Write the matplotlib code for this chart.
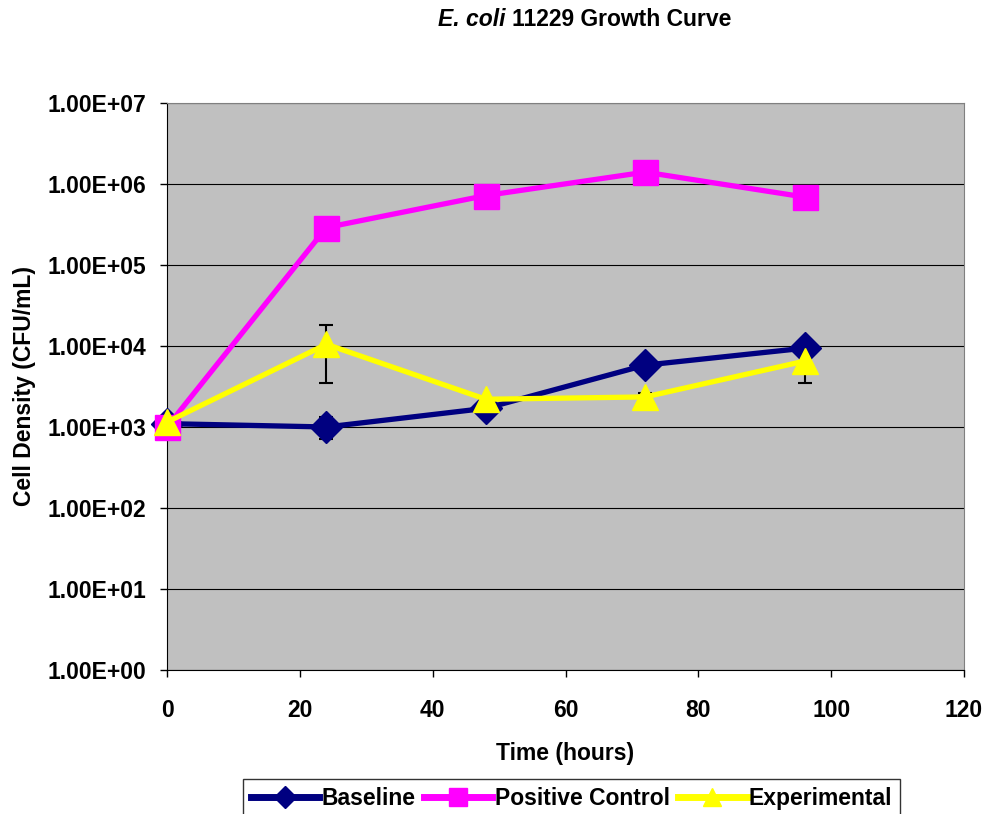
import matplotlib
matplotlib.use("Agg")
import matplotlib.pyplot as plt
from matplotlib.ticker import FuncFormatter, FixedLocator

plt.rcParams['font.family'] = ['Liberation Sans', 'DejaVu Sans']
plt.rcParams['font.weight'] = 'bold'

# data
hours = [0, 24, 48, 72, 96]
baseline = [1.1e3, 1.0e3, 1.7e3, 5.8e3, 9.4e3]
baseline_err_lo = [0, 280, 0, 0, 0]
baseline_err_hi = [0, 330, 0, 0, 0]
positive = [1.0e3, 2.9e5, 7.2e5, 1.4e6, 6.9e5]
experimental = [1.15e3, 1.05e4, 2.2e3, 2.35e3, 6.5e3]
exp_err_lo = [0, 7.0e3, 0, 0, 3.0e3]
exp_err_hi = [0, 7.5e3, 0, 300, 3.0e3]

y_ticks = [1e0, 1e1, 1e2, 1e3, 1e4, 1e5, 1e6, 1e7]

fs = 16.5

fig = plt.figure(figsize=(9.87, 8.14), dpi=100)
ax = fig.add_axes([0.1692, 0.1769, 0.8075, 0.6966])
ax.set_facecolor('#C0C0C0')

# error bars underneath markers
ax.errorbar(hours, baseline, yerr=[baseline_err_lo, baseline_err_hi], fmt='none',
            ecolor='black', elinewidth=1.5, capsize=5, capthick=1.5, zorder=2)
ax.errorbar(hours, experimental, yerr=[exp_err_lo, exp_err_hi], fmt='none',
            ecolor='black', elinewidth=1.5, capsize=5, capthick=1.5, zorder=2)

ax.plot(hours, baseline, color='#000080', lw=3.8, marker='D', ms=16,
        label='Baseline', zorder=3, clip_on=False)
ax.plot(hours, positive, color='#FF00FF', lw=3.8, marker='s', ms=18,
        label='Positive Control', zorder=4, clip_on=False)
ax.plot(hours, experimental, color='#FFFF00', lw=3.8, marker='^', ms=19,
        label='Experimental', zorder=5, clip_on=False)

ax.set_yscale('log')
ax.set_ylim(1e0, 1e7)
ax.set_xlim(0, 120)
ax.yaxis.set_major_locator(FixedLocator(y_ticks))
ax.yaxis.set_minor_locator(FixedLocator([]))
ax.yaxis.set_major_formatter(FuncFormatter(lambda v, p: f"{v:.2E}"))
ax.set_xticks(range(0, 121, 20))
ax.grid(axis='y', color='black', lw=0.8, zorder=1)
ax.set_axisbelow(True)

ax.tick_params(axis='both', direction='out', length=5, width=1, labelsize=fs)
ax.tick_params(axis='y', pad=10)
ax.tick_params(axis='x', pad=16)
for lab in ax.get_xticklabels() + ax.get_yticklabels():
    lab.set_fontweight('bold')
ax.spines['left'].set_color('black')
ax.spines['bottom'].set_color('black')
ax.spines['top'].set_color('#808080')
ax.spines['right'].set_color('#808080')

ax.set_xlabel('Time (hours)', fontsize=fs, fontweight='bold', labelpad=14)
ax.set_ylabel('Cell Density (CFU/mL)', fontsize=fs, fontweight='bold', labelpad=8)

fig.text(506 / 987, 1 - 20 / 814, 'E. coli', ha='right', va='center',
         fontsize=fs, fontweight='bold', fontstyle='italic')
fig.text(512 / 987, 1 - 20 / 814, '11229 Growth Curve', ha='left', va='center',
         fontsize=fs, fontweight='bold')

leg = fig.legend(loc='upper center', bbox_to_anchor=(0.579, 0.043), ncol=3,
                 fontsize=16.5, frameon=True, fancybox=False, edgecolor='black',
                 handlelength=3.0, columnspacing=0.35, handletextpad=0.1,
                 borderpad=0.35, borderaxespad=0, markerscale=0.7)
leg.get_frame().set_linewidth(1)
for t in leg.get_texts():
    t.set_fontweight('bold')
for h in leg.get_lines():
    h.set_linewidth(5)

fig.savefig('out.png', dpi=100)
